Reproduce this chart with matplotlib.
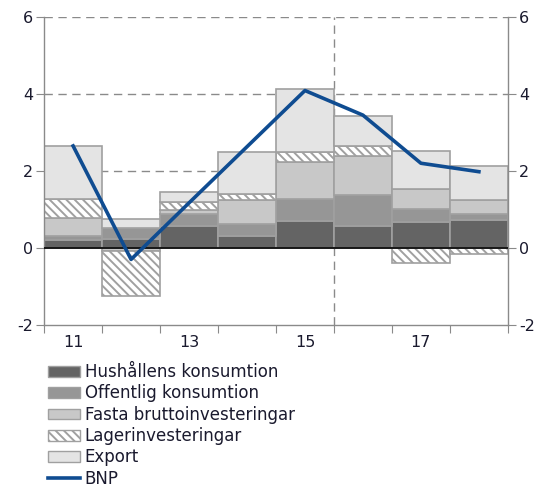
import numpy as np
import matplotlib
matplotlib.use('Agg')
from matplotlib import pyplot as plt
from matplotlib.patches import Patch
from matplotlib.lines import Line2D

# Bidrag till BNP-tillväxt, procentenheter
years = np.arange(2011, 2019)
hush = [0.21, 0.24, 0.57, 0.32, 0.70, 0.57, 0.67, 0.72]
offentlig = [0.11, 0.28, 0.30, 0.30, 0.58, 0.80, 0.35, 0.16]
fasta = [0.45, -0.08, 0.11, 0.62, 0.94, 1.03, 0.51, 0.36]
lager = [0.50, -1.16, 0.20, 0.15, 0.28, 0.25, -0.38, -0.15]
export = [1.38, 0.23, 0.26, 1.09, 1.63, 0.77, 1.00, 0.89]
bnp = [2.65, -0.30, 1.17, 2.63, 4.09, 3.45, 2.20, 1.98]
tick_labels = ['11', '13', '15', '17']

plt.rcParams['hatch.color'] = '#a0a0a0'
plt.rcParams['hatch.linewidth'] = 1.4
plt.rcParams['axes.unicode_minus'] = False

fig = plt.figure(figsize=(5.38, 4.87), dpi=100)
ax = fig.add_axes([0.082, 0.333, 0.862, 0.632])

series = [
    (hush, '#646464', None, 'Hushållens konsumtion'),
    (offentlig, '#969696', None, 'Offentlig konsumtion'),
    (fasta, '#c8c8c8', None, 'Fasta bruttoinvesteringar'),
    (lager, 'white', '\\\\\\\\', 'Lagerinvesteringar'),
    (export, '#e4e4e4', None, 'Export'),
]

pos_base = np.zeros(len(years))
neg_base = np.zeros(len(years))
for vals, col, hatch, lab in series:
    v = np.array(vals)
    base = np.where(v >= 0, pos_base, neg_base)
    ax.bar(years, v, width=1.0, bottom=base, color=col, edgecolor='#a0a0a0',
           linewidth=1.2, hatch=hatch, zorder=2)
    pos_base = pos_base + np.where(v >= 0, v, 0)
    neg_base = neg_base + np.where(v < 0, v, 0)

ax.plot(years, bnp, color='#0f4c91', linewidth=2.6, zorder=4)

ax.axhline(0, color='black', linewidth=1.2, zorder=3)
for g in [2, 4, 6]:
    ax.axhline(g, color='#8a8a8a', linewidth=1.0, linestyle=(0, (6, 4)), zorder=1)
ax.axvline(2015.5, color='#8a8a8a', linewidth=1.0, linestyle=(0, (6, 4)), zorder=1)

ax.set_xlim(2010.5, 2018.5)
ax.set_ylim(-2, 6)
ax.set_xticks(np.arange(2010.5, 2019, 1.0))
ax.set_xticklabels([])
ax.set_xticks([2011, 2013, 2015, 2017], minor=True)
ax.set_xticklabels(tick_labels, minor=True)
ax.tick_params(axis='x', which='minor', length=0, pad=7, labelsize=11.5, labelcolor='#1a1a2e')
ax.tick_params(axis='x', which='major', length=6, color='#8a8a8a')
ax.set_yticks([-2, 0, 2, 4, 6])
ax.tick_params(axis='y', which='both', length=6, color='#8a8a8a', labelsize=11.5, pad=2,
               labelcolor='#1a1a2e', left=True, right=True, labelleft=True, labelright=True)

for s in ['left', 'right', 'bottom']:
    ax.spines[s].set_color('#8a8a8a')
    ax.spines[s].set_linewidth(1.0)
ax.spines['top'].set_visible(False)

handles = [Patch(facecolor=c, edgecolor='#a0a0a0', hatch=h, label=l) for _, c, h, l in series]
handles.append(Line2D([], [], color='#0f4c91', linewidth=2.6, label='BNP'))
fig.legend(handles=handles, loc='upper left', bbox_to_anchor=(0.077, 0.268),
           frameon=False, fontsize=12, handlelength=1.9, handleheight=0.6,
           labelspacing=0.2, handletextpad=0.3, borderaxespad=0, labelcolor='#1a1a2e')

fig.savefig('out.png', dpi=100)
